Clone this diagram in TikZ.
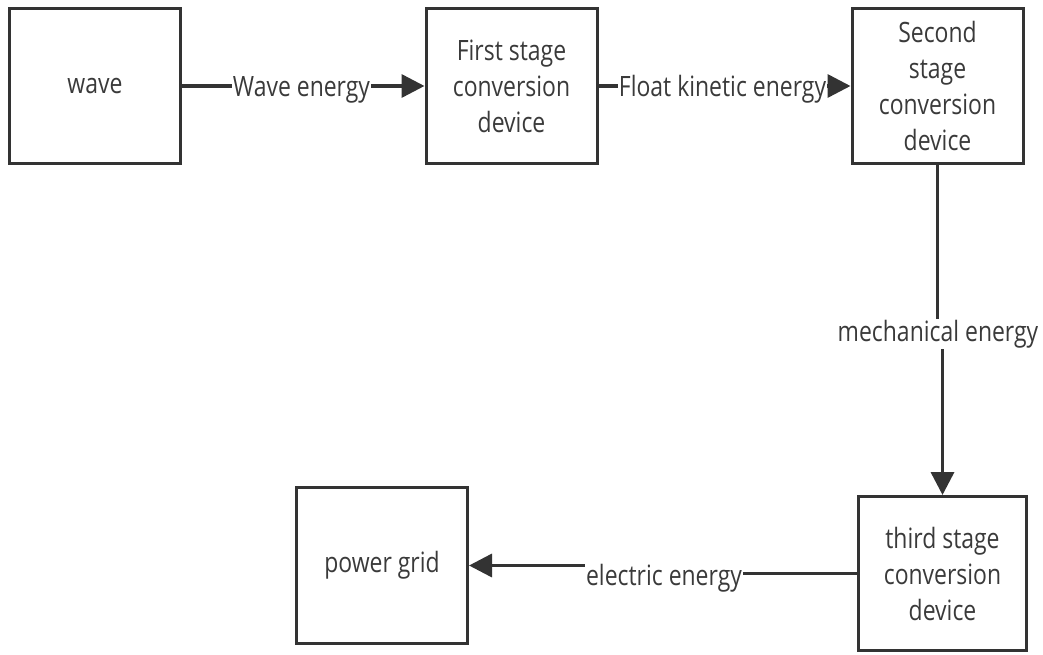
\documentclass[tikz,border=0pt]{standalone}
\usepackage{fontspec}
\setmainfont[FakeStretch=0.82]{Open Sans}
\usetikzlibrary{arrows.meta}
\definecolor{ink}{HTML}{333333}
\definecolor{txt}{HTML}{3A3A3A}
\begin{document}
\begin{tikzpicture}[x=1pt,y=-1pt,
  box/.style={draw=ink,line width=3pt,minimum width=171pt,minimum height=155pt,align=center,
    text=txt,font=\fontsize{28}{36}\selectfont,inner sep=2pt},
  lbl/.style={text=txt,font=\fontsize{28}{36}\selectfont,inner sep=1pt},
  conn/.style={draw=ink,line width=3.5pt},
  arr/.style={conn,-{Triangle[length=23pt,width=23pt]}}]
\useasboundingbox (0,0) rectangle (1043,655);
\node[box] (wave) at (95,86) {wave};
\node[box] (first) at (511.5,86) {First stage\\conversion\\device};
\node[box] (second) at (937.5,86) {Second\\stage\\conversion\\device};
\node[box,minimum width=168pt,minimum height=154pt] (third) at (942.5,573.5) {third stage\\conversion\\device};
\node[box,minimum height=156pt] (grid) at (382,565.5) {power grid};
\node[lbl] (l1) at (301.5,90) {Wave energy};
\node[lbl] (l2) at (722.5,89) {Float kinetic energy};
\node[lbl] (l3) at (938,334) {mechanical energy};
\node[lbl] (l4) at (664,578) {electric energy};
\draw[conn] (wave.east) -- (wave.east -| l1.west);
\draw[arr] (l1.east |- first.west) -- (first.west);
\draw[conn] (first.east) -- (first.east -| l2.west);
\draw[arr] (l2.east |- second.west) -- (second.west);
\draw[conn] (second.south) -- (second.south |- l3.north);
\draw[arr] (third.north |- l3.south) -- (third.north);
\draw[conn] (third.west) -- (third.west -| l4.east);
\draw[arr] (l4.west |- grid.east) -- (grid.east);
\end{tikzpicture}
\end{document}
